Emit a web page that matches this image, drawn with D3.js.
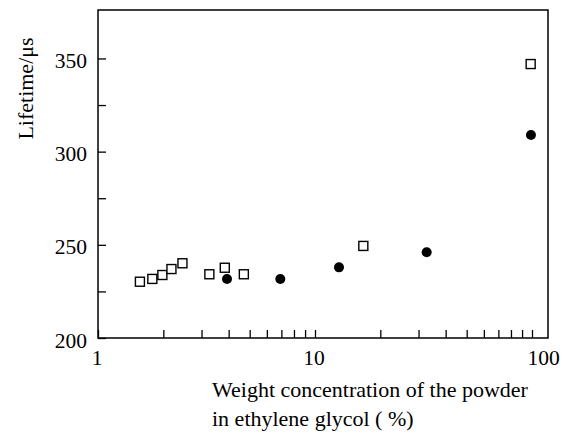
<!DOCTYPE html>
<html>
<head>
<meta charset="utf-8">
<script src="https://cdn.jsdelivr.net/npm/d3@7"></script>
<style>
  html, body { margin: 0; padding: 0; background: #fff; }
  svg { display: block; }
  text { font-family: "Liberation Serif", "Times New Roman", serif; fill: #000; }
</style>
</head>
<body>
<svg id="chart" width="566" height="434"></svg>
<script>
// ---- data ----
const openSquareConc = [1.56, 1.78, 1.98, 2.18, 2.45, 3.26, 3.84, 4.70, 16.7, 98.6];
const openSquareLife = [230.2, 231.7, 233.8, 237.0, 240.1, 234.2, 237.7, 234.2, 249.4, 347.0];
const filledCircleConc = [3.93, 6.92, 12.9, 32.7, 98.9];
const filledCircleLife = [231.7, 231.7, 237.9, 246.0, 308.9];

const xTickValues = [1,2,3,4,5,6,7,8,9,10,20,30,40,50,60,70,80,90,100];
const xTickLabels = [1, 10, 100];
const yTickValues = [200, 225, 250, 275, 300, 325, 350];
const yTickLabels = [200, 250, 300, 350];
const xTitleLines = ["Weight concentration of the powder", "in ethylene glycol ( %)"];
const yTitle = "Lifetime/\u03bcs";

// ---- layout ----
const svg = d3.select("#chart");
const mLeft = 98, mRight = 548, mTop = 10, mBottom = 338;

const x = d3.scaleLog().domain([1, 118.5]).range([mLeft, mRight]);
const y = d3.scaleLinear().domain([200, 376]).range([mBottom, mTop]);

const tickFont = 21.5;
const titleFont = 22;

// x axis (ticks pointing inward)
const xAxis = d3.axisBottom(x)
  .tickValues(xTickValues)
  .tickSizeInner(-8).tickSizeOuter(0)
  .tickPadding(11.5)
  .tickFormat(d => xTickLabels.includes(d) ? String(d) : "");
const gx = svg.append("g").attr("transform", `translate(0,${mBottom})`).call(xAxis);
gx.attr("font-family", null);
gx.select(".domain").remove();
gx.selectAll(".tick line").attr("stroke", "#000").attr("stroke-width", 1.3);
gx.selectAll(".tick text")
  .attr("font-size", tickFont)
  .attr("dx", d => d === 100 ? 11 : -1.5);

// y axis
const yAxis = d3.axisLeft(y)
  .tickValues(yTickValues)
  .tickSizeInner(-8).tickSizeOuter(0)
  .tickPadding(11)
  .tickFormat(d => yTickLabels.includes(d) ? String(d) : "");
const gy = svg.append("g").attr("transform", `translate(${mLeft},0)`).call(yAxis);
gy.attr("font-family", null);
gy.select(".domain").remove();
gy.selectAll(".tick line").attr("stroke", "#000").attr("stroke-width", 1.3);
gy.selectAll(".tick text")
  .attr("font-size", tickFont)
  .attr("dy", "0.42em");

// frame
svg.append("rect")
  .attr("x", mLeft).attr("y", mTop)
  .attr("width", mRight - mLeft).attr("height", mBottom - mTop)
  .attr("fill", "none").attr("stroke", "#000").attr("stroke-width", 1.5);

// open squares
const sq = 9;
svg.append("g").selectAll("rect")
  .data(openSquareConc.map((c, i) => [c, openSquareLife[i]]))
  .join("rect")
  .attr("x", d => x(d[0]) - sq / 2)
  .attr("y", d => y(d[1]) - sq / 2)
  .attr("width", sq).attr("height", sq)
  .attr("fill", "#fff").attr("stroke", "#000").attr("stroke-width", 1.4);

// filled circles
svg.append("g").selectAll("circle")
  .data(filledCircleConc.map((c, i) => [c, filledCircleLife[i]]))
  .join("circle")
  .attr("cx", d => x(d[0]))
  .attr("cy", d => y(d[1]))
  .attr("r", 5)
  .attr("fill", "#000");

// axis titles
const xt = svg.append("text").attr("font-size", titleFont);
xt.selectAll("tspan").data(xTitleLines).join("tspan")
  .attr("x", 212)
  .attr("y", (d, i) => 397 + i * 29)
  .text(d => d);

svg.append("text")
  .attr("transform", `translate(33,${(37 + 140) / 2}) rotate(-90)`)
  .attr("text-anchor", "middle")
  .attr("font-size", titleFont)
  .text(yTitle);
</script>
</body>
</html>
